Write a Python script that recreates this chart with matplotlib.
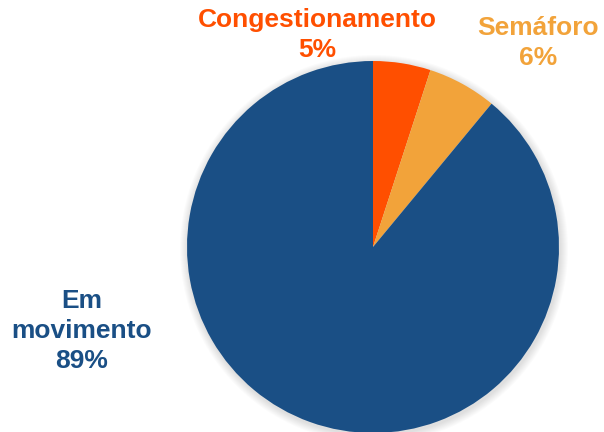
import matplotlib.pyplot as plt
from matplotlib.patches import Circle

labels = ['Congestionamento', 'Semáforo', 'Em movimento']
shares = [5, 6, 89]
colors = ['#FF4F00', '#F2A33A', '#1A4F85']

plt.rcParams['font.family'] = ['Liberation Sans', 'DejaVu Sans']

fig = plt.figure(figsize=(6.04, 4.32), dpi=100)
ax = fig.add_axes([0, 0, 1, 1])

cx, cy, r = 373, 185, 186

# soft drop shadow behind the pie
for i in range(8):
    ax.add_patch(Circle((cx + 1, cy - 2), r + 1 + i, color='black', alpha=0.016, lw=0, zorder=0))

ax.pie(shares, colors=colors, startangle=90, counterclock=False,
       center=(cx, cy), radius=r, frame=True,
       wedgeprops=dict(linewidth=0))
ax.set_xlim(0, 604)
ax.set_ylim(0, 432)
ax.set_aspect('equal')
ax.axis('off')

label_pos = [(317, 397), (538, 389), (82, 101)]
texts = ['Congestionamento', 'Semáforo', 'Em\nmovimento']
for txt, share, col, (x, y) in zip(texts, shares, colors, label_pos):
    ax.text(x, y, f'{txt}\n{share}%', ha='center', va='center', color=col,
            fontsize=19, fontweight='bold', linespacing=1.3)

fig.savefig('out.png', dpi=100)
